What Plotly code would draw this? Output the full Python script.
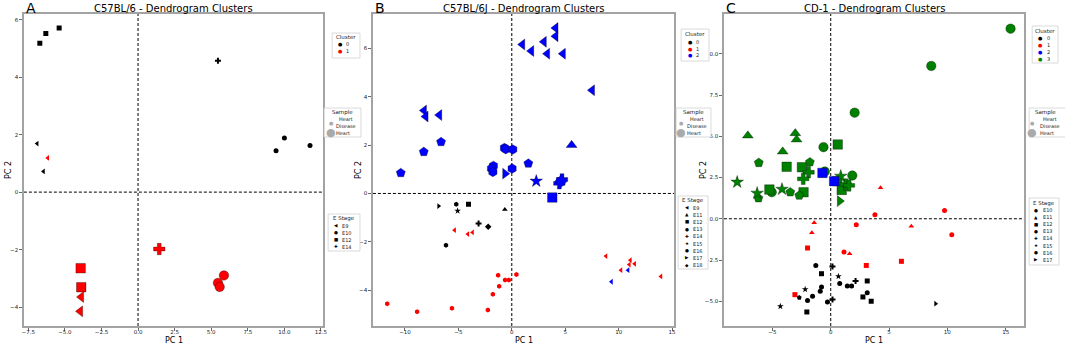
import plotly.graph_objects as go

W, H = 1065, 344
FONT = "DejaVu Sans"

# ---------------- data ----------------
# Panel A : C57BL/6
a_pc1 = [-5.39, -6.30, -6.71, 5.46, 10.0, 9.43, 11.75, -6.89, -6.46, -6.17,
         1.45, -3.92, -3.88, -3.88, -3.95, 5.87, 5.46, 5.58]
a_pc2 = [5.71, 5.52, 5.18, 4.57, 1.88, 1.44, 1.62, 1.69, 0.72, 1.19,
         -1.98, -2.65, -3.31, -3.65, -4.15, -2.90, -3.16, -3.30]
a_cluster = [0, 0, 0, 0, 0, 0, 0, 0, 0, 1,
             1, 1, 1, 1, 1, 1, 1, 1]
a_stage = ["E12", "E12", "E12", "E14", "E10", "E10", "E10", "E9", "E9", "E9",
           "E14", "E12", "E12", "E9", "E9", "E10", "E10", "E10"]
a_sample = ["HD"] * 10 + ["H"] * 8

# Panel B : C57BL/6J
b_pc1 = [0.99, 1.83, 4.10, 4.10, 3.01, 3.32, 4.79, 7.52, -8.21, -8.06, -6.78,
         5.6, -6.62, -8.24, -10.39, 1.55,
         -0.69, -0.56, 0.09, 0.03, -1.72, -1.90, -1.77,
         -0.63, 2.29, 4.45, 4.70, 4.60, 3.79,
         -6.85, -5.20, -4.05, -5.07, -0.65, -3.11, -2.21, -6.16,
         -5.35, -4.11, -3.67, 8.82, 11.1, 11.0, 11.5, 10.22, 13.96,
         -1.28, -0.63, -0.28, 0.43, -1.18, -1.77, -11.66, -8.86, -5.60, -2.24,
         10.88, 9.33]
b_pc2 = [6.16, 5.89, 6.84, 6.50, 6.27, 5.78, 5.78, 4.27, 3.43, 3.18, 3.24,
         2.00, 2.13, 1.72, 0.85, 1.24,
         1.88, 1.83, 1.82, 1.03, 1.14, 1.03, 0.89,
         0.82, 0.51, 0.42, 0.58, 0.50, -0.17,
         -0.52, -0.45, -0.45, -0.72, -0.66, -1.24, -1.38, -2.14,
         -1.52, -1.68, -1.61, -2.59, -2.76, -2.94, -2.91, -3.17, -3.43,
         -3.38, -3.58, -3.58, -3.35, -3.84, -4.17, -4.56, -4.89, -4.75, -4.82,
         -3.17, -3.65]
b_cluster = [2] * 29 + [0] * 8 + [1] * 19 + [2, 2]
b_stage = ["E9"] * 11 + ["E11"] + ["E16"] * 4 + ["E13"] * 7 + \
          ["E17", "E15", "E14", "E14", "E18", "E12"] + \
          ["E17", "E13", "E12", "E15", "E11", "E14", "E18", "E13"] + \
          ["E9"] * 9 + ["E13"] * 10 + ["E9", "E9"]
b_sample = ["H"] * 29 + ["HD"] * 29

# Panel C : CD-1
c_pc1 = [-7.11, -3.04, -2.93, -4.12,
         2.05, -0.62, 15.42, 8.62, -0.51, 1.85, -5.06,
         0.60, -3.78, -2.47, -5.26, -2.33, 0.57, 0.94,
         -6.17, -1.79, -6.20, -3.47, -2.70,
         -1.90, -2.36, 1.28, 1.57,
         -8.02, -6.31, -4.18, 0.86,
         0.77,
         -0.71, 0.29,
         4.27, -1.42, -1.62, 1.62, 6.91,
         3.79, 2.19, 1.14, 9.76, 10.38,
         -1.99, 3.05, -3.07, 6.06,
         -1.28, 0.77, 1.42, 1.79, -0.79, -0.90, -1.56, -1.99, -0.28, 3.13,
         0.15, 2.13, 0.15,
         -0.79, 3.13, -2.05, 2.76, 3.47,
         0.66, -2.19, -4.32,
         -2.70, 8.99]
c_pc2 = [5.04, 5.18, 4.80, 4.07,
         6.43, 4.34, 11.52, 9.26, 2.86, 2.62, 1.61,
         4.50, 3.15, 3.12, 1.77, 1.61, 2.28, 1.75,
         3.39, 3.43, 1.25, 1.61, 1.41,
         2.82, 2.42, 2.08, 2.02,
         2.22, 1.55, 1.79, 2.58,
         1.07,
         2.78, 2.28,
         1.88, -0.24, -0.85, -2.12, -0.45,
         0.24, -0.36, -2.02, 0.50, -0.97,
         -1.78, -2.83, -4.60, -2.58,
         -2.83, -3.93, -4.08, -4.08, -4.14, -4.40, -4.70, -4.95, -5.05, -4.48,
         -2.89, -3.77, -4.89,
         -3.33, -3.77, -5.65, -4.74, -5.00,
         -3.49, -4.28, -5.31,
         -4.78, -5.15]
c_cluster = [3] * 32 + [2, 2] + [1] * 14 + [0] * 23
c_stage = ["E11"] * 4 + ["E10"] * 7 + ["E12"] * 7 + ["E16"] * 5 + ["E14"] * 4 + \
          ["E15"] * 4 + ["E17"] + ["E12", "E12"] + \
          ["E11"] * 5 + ["E10"] * 5 + ["E12"] * 4 + \
          ["E10"] * 10 + ["E14"] * 3 + ["E12"] * 5 + ["E15"] * 3 + ["E16", "E17"]
c_sample = ["H"] * 34 + ["HD"] * 37

# legend categories
a_clusters = [0, 1]
b_clusters = [0, 1, 2]
c_clusters = [0, 1, 2, 3]
a_stages = ["E9", "E10", "E12", "E14"]
b_stages = ["E9", "E11", "E12", "E13", "E14", "E15", "E16", "E17", "E18"]
c_stages = ["E10", "E11", "E12", "E13", "E14", "E15", "E16", "E17"]
sample_labels = {"HD": "Heart<br>Disease", "H": "Heart"}

# ---------------- styles ----------------
cluster_colors = {0: "#000000", 1: "#ff0000", 2: "#0000ff", 3: "#008000"}
stage_symbols = {"E9": "triangle-left", "E10": "circle", "E11": "triangle-up",
                 "E12": "square", "E13": "hexagon", "E14": "cross", "E15": "star",
                 "E16": "pentagon", "E17": "triangle-right", "E18": "diamond"}
stage_glyphs = {"E9": "◀", "E10": "●", "E11": "▲", "E12": "■", "E13": "●",
                "E14": "✚", "E15": "★", "E16": "●", "E17": "▶", "E18": "◆"}
sample_size = {"HD": 5, "H": 9.5}

panels = [
    dict(pc1=a_pc1, pc2=a_pc2, cl=a_cluster, st=a_stage, sa=a_sample,
         px0=22, px1=323, xr=[-7.8, 12.65], xt=[-7.5, -5, -2.5, 0, 2.5, 5, 7.5, 10, 12.5],
         xf=".1f", yr=[-4.66, 6.2], yt=[-4, -2, 0, 2, 4, 6], yf="d",
         title="C57BL/6 - Dendrogram Clusters", letter="A", ylab_x=6,
         clusters=a_clusters, stages=a_stages,
         leg_cl=dict(box=(332, 33, 360, 58), ty=37.5, ys=[44, 51.5], mx=340, tx=345),
         leg_sa=dict(box=(324, 108, 361, 137), ty=113, mx=331, tx=335),
         leg_st=dict(box=(328, 214, 360, 251), ty=218.5, y0=225.5, dy=7, mx=336, tx=341)),
    dict(pc1=b_pc1, pc2=b_pc2, cl=b_cluster, st=b_stage, sa=b_sample,
         px0=373, px1=676, xr=[-13.0, 15.2], xt=[-10, -5, 0, 5, 10, 15],
         xf="d", yr=[-5.48, 7.42], yt=[-4, -2, 0, 2, 4, 6], yf="d",
         title="C57BL/6J - Dendrogram Clusters", letter="B", ylab_x=358,
         clusters=b_clusters, stages=b_stages,
         leg_cl=dict(box=(683, 29, 711, 61), ty=34, ys=[41.5, 48.5, 55.5], mx=692, tx=697),
         leg_sa=dict(box=(678, 108, 713, 137), ty=113, mx=683, tx=688),
         leg_st=dict(box=(680, 196, 710, 269), ty=200.5, y0=207.5, dy=7.2, mx=689, tx=694)),
    dict(pc1=c_pc1, pc2=c_pc2, cl=c_cluster, st=c_stage, sa=c_sample,
         px0=726, px1=1028, xr=[-9.16, 16.59], xt=[-5, 0, 5, 10, 15],
         xf="d", yr=[-6.5, 12.41], yt=[-5, -2.5, 0, 2.5, 5, 7.5, 10], yf=".1f",
         title="CD-1 - Dendrogram Clusters", letter="C", ylab_x=705,
         clusters=c_clusters, stages=c_stages,
         leg_cl=dict(box=(1036, 26, 1062, 63), ty=30.5, ys=[38, 45, 52, 59], mx=1044, tx=1050),
         leg_sa=dict(box=(1033, 108, 1072, 137), ty=113, mx=1036, tx=1043),
         leg_st=dict(box=(1033, 198, 1063, 265), ty=203, y0=210, dy=7.1, mx=1040, tx=1046)),
]

PT, PB = 14, 326  # plot top / bottom in page px


def fx(px):
    return px / W


def fy(py):
    return 1 - py / H


fig = go.Figure()
shapes, annotations = [], []
layout = dict(width=W, height=H, margin=dict(l=0, r=0, t=0, b=0),
              paper_bgcolor="white", plot_bgcolor="white", showlegend=False,
              hovermode=False, font=dict(family=FONT, color="#222"))

for i, p in enumerate(panels, start=1):
    sfx = "" if i == 1 else str(i)
    xa, ya = "x" + sfx, "y" + sfx
    colors = [cluster_colors[c] for c in p["cl"]]
    fig.add_trace(go.Scatter(
        x=p["pc1"], y=p["pc2"], mode="markers", xaxis=xa, yaxis=ya,
        marker=dict(color=colors, opacity=1,
                    symbol=[stage_symbols[s] for s in p["st"]],
                    size=[sample_size[s] for s in p["sa"]],
                    line=dict(width=[0.6 if s == "H" else 0 for s in p["sa"]],
                              color="rgba(0,0,0,0.55)")),
        hoverinfo="skip"))
    axis_common = dict(showgrid=False, zeroline=False, showline=True, mirror=True,
                       linecolor="#a3a3a3", linewidth=1.6, ticks="outside",
                       ticklen=3, tickwidth=0.8, tickcolor="#444",
                       tickfont=dict(size=5.5, color="#222", family=FONT))
    layout["xaxis" + sfx] = dict(axis_common, domain=[fx(p["px0"]), fx(p["px1"])],
                                 anchor=ya, range=p["xr"], tickvals=p["xt"],
                                 tickformat=p["xf"], ticklabelstandoff=-3)
    layout["yaxis" + sfx] = dict(axis_common, domain=[fy(PB), fy(PT)], anchor=xa,
                                 range=p["yr"], tickvals=p["yt"], tickformat=p["yf"])
    # dashed reference lines
    shapes.append(dict(type="line", xref=xa, yref=ya + " domain", x0=0, x1=0, y0=0, y1=1,
                       line=dict(color="black", width=1, dash="3px,2px"), layer="below"))
    shapes.append(dict(type="line", xref=xa + " domain", yref=ya, x0=0, x1=1, y0=0, y1=0,
                       line=dict(color="black", width=1, dash="3px,2px"), layer="below"))
    cx = (p["px0"] + p["px1"]) / 2
    annotations.append(dict(text=p["title"], x=fx(cx), y=fy(8.5), xref="paper", yref="paper",
                            xanchor="center", yanchor="middle", showarrow=False,
                            font=dict(size=10, color="black", family=FONT)))
    annotations.append(dict(text=p["letter"], x=fx(p["px0"]), y=fy(8), xref="paper", yref="paper",
                            xanchor="left", yanchor="middle", showarrow=False,
                            font=dict(size=14, color="black", family=FONT)))
    annotations.append(dict(text="PC 1", x=fx(cx), y=fy(340), xref="paper", yref="paper",
                            xanchor="center", yanchor="middle", showarrow=False,
                            borderpad=0,
                            font=dict(size=8, color="black", family=FONT)))
    annotations.append(dict(text="PC 2", x=fx(p["ylab_x"]), y=fy((PT + PB) / 2),
                            xref="paper", yref="paper", textangle=-90,
                            xanchor="center", yanchor="middle", showarrow=False,
                            font=dict(size=8, color="black", family=FONT)))

    # ---- legend-like boxes ----
    def box(b):
        shapes.append(dict(type="rect", xref="paper", yref="paper",
                           x0=fx(b[0]), x1=fx(b[2]), y0=fy(b[3]), y1=fy(b[1]),
                           line=dict(color="#d0d0d0", width=0.8), fillcolor="white",
                           layer="above"))

    def txt(t, px, py, size=5, anchor="left", color="#222"):
        annotations.append(dict(text=t, x=fx(px), y=fy(py), xref="paper", yref="paper",
                                xanchor=anchor, yanchor="middle", showarrow=False,
                                borderpad=0, font=dict(size=size, color=color, family=FONT)))

    L = p["leg_cl"]
    box(L["box"])
    txt("Cluster", (L["box"][0] + L["box"][2]) / 2, L["ty"], 5.5, "center")
    for c, yy in zip(p["clusters"], L["ys"]):
        txt("●", L["mx"], yy, 5, "center", cluster_colors[c])
        txt(str(c), L["tx"], yy)

    L = p["leg_sa"]
    box(L["box"])
    txt("Sample", (L["box"][0] + L["box"][2]) / 2 if i < 3 else L["tx"] + 6, L["ty"], 5.5, "center")
    txt("●", L["mx"], 123, 5, "center", "#aaaaaa")
    txt(sample_labels["HD"], L["tx"], 123)
    txt("●", L["mx"], 132.5, 11, "center", "#aaaaaa")
    txt(sample_labels["H"], L["tx"], 132.5)

    L = p["leg_st"]
    box(L["box"])
    txt("E Stage", (L["box"][0] + L["box"][2]) / 2, L["ty"], 5.5, "center")
    for k, s in enumerate(p["stages"]):
        yy = L["y0"] + k * L["dy"]
        txt(stage_glyphs[s], L["mx"], yy, 4.5, "center", "#000000")
        txt(s, L["tx"], yy)

layout["shapes"] = shapes
layout["annotations"] = annotations
fig.update_layout(**layout)
# the page's default 8px body margin would shift the figure; remove it
fig.write_html("out.html",
               config={"displayModeBar": False, "staticPlot": True},
               post_script="document.body.style.margin='0';"
                           "document.body.style.overflow='hidden';")
